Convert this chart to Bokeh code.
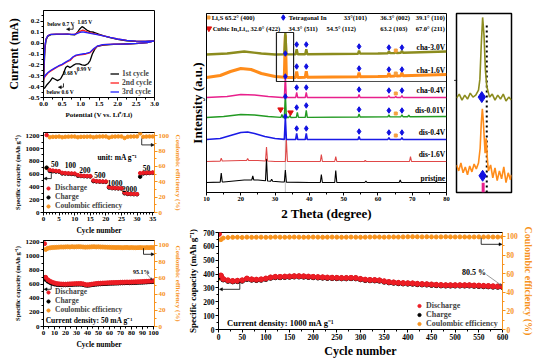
import numpy as np
from bokeh.plotting import figure
from bokeh.models import (Range1d, LinearAxis, Label, Legend, LegendItem, Arrow,
                          NormalHead, FixedTicker, CustomJSTickFormatter)
from bokeh.layouts import row, column
from bokeh.embed import file_html
from bokeh.resources import INLINE

FONT = "Liberation Serif"
RED = "#ED1C24"
ORANGE = "#F7931E"

# ---------------- (a) CV data ----------------
cv1_v = [0.0, 0.02, 0.04, 0.07, 0.12, 0.2, 0.35, 0.5, 0.65, 0.75, 0.84, 0.92, 0.98, 1.04, 1.1, 1.18, 1.26, 1.36,
         1.49, 1.65, 1.8, 2.0, 2.25, 2.5, 2.75, 3.0,
         2.8, 2.5, 2.2, 1.9, 1.62, 1.45, 1.38, 1.32, 1.26, 1.2, 1.12, 1.04, 0.97, 0.88, 0.8, 0.72, 0.65, 0.6,
         0.54, 0.46, 0.38, 0.3, 0.24, 0.18, 0.1, 0.04, 0.0]
cv1_i = [-0.41, -0.2, -0.05, 0.03, 0.065, 0.078, 0.08, 0.08, 0.082, 0.078, 0.075, 0.1, 0.13, 0.152, 0.14, 0.118,
         0.105, 0.1, 0.082, 0.065, 0.05, 0.035, 0.022, 0.016, 0.016, 0.02,
         0.005, -0.004, -0.008, -0.012, -0.018, -0.03, -0.06, -0.1, -0.16, -0.19, -0.205, -0.2, -0.19, -0.19,
         -0.205, -0.225, -0.21, -0.225, -0.28, -0.33, -0.345, -0.33, -0.32, -0.35, -0.38, -0.41, -0.42]
cv2_v = [0.0, 0.02, 0.04, 0.07, 0.12, 0.2, 0.35, 0.5, 0.65, 0.75, 0.84, 0.92, 1.0, 1.06, 1.12, 1.2, 1.3, 1.45,
         1.65, 1.8, 2.0, 2.25, 2.5, 2.75, 3.0,
         2.8, 2.5, 2.2, 1.9, 1.6, 1.45, 1.36, 1.25, 1.15, 1.05, 0.95, 0.88, 0.8, 0.72, 0.62, 0.5, 0.4, 0.3, 0.2,
         0.12, 0.06, 0.02, 0.0]
cv2_i = [-0.33, -0.15, -0.02, 0.04, 0.07, 0.08, 0.082, 0.082, 0.083, 0.08, 0.08, 0.095, 0.11, 0.12, 0.112, 0.1,
         0.092, 0.08, 0.065, 0.052, 0.038, 0.025, 0.018, 0.016, 0.02,
         0.005, -0.003, -0.008, -0.01, -0.015, -0.03, -0.056, -0.09, -0.1, -0.105, -0.11, -0.115, -0.13, -0.16,
         -0.175, -0.2, -0.215, -0.235, -0.255, -0.275, -0.3, -0.32, -0.34]
cv3_v = [0.0, 0.02, 0.04, 0.07, 0.12, 0.2, 0.35, 0.5, 0.65, 0.75, 0.84, 0.92, 1.0, 1.06, 1.12, 1.2, 1.3, 1.45,
         1.65, 1.8, 2.0, 2.25, 2.5, 2.75, 3.0,
         2.8, 2.5, 2.2, 1.9, 1.6, 1.45, 1.36, 1.25, 1.15, 1.05, 0.95, 0.88, 0.8, 0.72, 0.62, 0.5, 0.4, 0.3, 0.2,
         0.12, 0.06, 0.02, 0.0]
cv3_i = [-0.31, -0.14, -0.02, 0.04, 0.07, 0.08, 0.082, 0.082, 0.082, 0.08, 0.08, 0.09, 0.1, 0.104, 0.1, 0.095,
         0.088, 0.078, 0.064, 0.052, 0.038, 0.025, 0.018, 0.016, 0.02,
         0.005, -0.003, -0.008, -0.01, -0.014, -0.028, -0.05, -0.085, -0.095, -0.1, -0.105, -0.11, -0.125, -0.15,
         -0.17, -0.195, -0.21, -0.23, -0.25, -0.27, -0.29, -0.31, -0.33]

# ---------------- (b) XRD data ----------------
xrd_names = ["pristine", "dis-1.6V", "dis-0.4V", "dis-0.01V", "cha-0.4V", "cha-1.6V", "cha-3.0V"]
xrd_offsets = [10, 31, 53, 75, 95, 115, 138]
bg_pristine = [(10, 0), (15, 0.5), (18, 1.5), (21, 2.5), (25, 2.5), (28, 1.5), (32, 0.5), (40, 0), (80, 0)]
bg_dis16 = [(10, 0), (20, 1), (25, 1), (30, 0), (80, 0)]
bg_dis04 = [(10, 0), (14, 1), (17, 4), (20, 7), (22, 7.5), (24, 6), (27, 3), (30, 1), (33, 0), (80, 0)]
bg_dis001 = [(10, 0), (15, 1), (20, 3), (24, 2.5), (28, 1), (32, 0), (80, 1)]
bg_cha04 = [(10, 0), (16, 1), (20, 3), (24, 2.5), (28, 1), (32, 0), (80, 0)]
bg_cha16 = [(10, 0), (14, 2), (17, 6), (20, 9), (23, 8), (26, 4), (30, 1), (34, 0), (60, 1), (80, 3)]
bg_cha30 = [(10, 0), (16, 1), (21, 3), (26, 1), (30, 0), (60, 1), (80, 3)]
pk_pristine = [(14.3, 9), (23.5, 4), (27.5, 22), (29.0, 2), (33.0, 12), (43.5, 8), (47.7, 12), (56.5, 1.5),
               (66.5, 2.5), (77.0, 1)]
pk_dis16 = [(14.3, 3), (22.0, 2), (27.5, 14), (33.3, 22), (43.5, 7), (47.7, 5), (56.3, 1), (69.5, 5)]
pk_dis04 = [(33.0, 22), (36.3, 6), (39.1, 6), (54.5, 3), (63.2, 2), (67.0, 2)]
pk_dis001 = [(32.0, 3), (33.0, 24), (34.3, 2), (36.5, 5), (39.1, 7), (54.5, 3), (63.2, 2), (67.0, 2), (69.0, 1.5)]
pk_cha04 = [(33.0, 22), (36.3, 5), (39.1, 5), (54.5, 3), (63.2, 2), (65.2, 1), (67.0, 2)]
pk_cha16 = [(33.0, 42), (36.3, 6), (39.1, 6), (54.5, 4), (63.2, 3), (65.2, 2), (67.0, 3)]
pk_cha30 = [(33.0, 22), (36.3, 5), (39.1, 5), (54.5, 3), (63.2, 2), (65.2, 1.5), (67.0, 2)]
in_peaks = [36.3, 39.1, 54.5, 63.2, 67.0]
li2s_peak = 65.2
# inset (zoom of the 33 deg peak)
ins_olive_x = [32.0, 32.1, 32.2, 32.3, 32.4, 32.5, 32.6, 32.7, 32.8, 32.85, 32.9, 32.95, 33.0, 33.05, 33.1, 33.2,
               33.3, 33.4, 33.5, 33.6, 33.7, 33.8, 33.9, 34.0]
ins_olive_y = [96, 100, 94, 99, 95, 101, 97, 99, 104, 115, 150, 178, 160, 125, 108, 97, 100, 94, 99, 95, 100, 93,
               97, 94]
ins_orange_x = [32.0, 32.08, 32.16, 32.24, 32.32, 32.4, 32.48, 32.56, 32.64, 32.72, 32.8, 32.86, 32.9, 32.94,
                32.97, 33.0, 33.04, 33.08, 33.12, 33.16, 33.24, 33.32, 33.4, 33.48, 33.56, 33.64, 33.72, 33.8,
                33.88, 33.96, 34.0]
ins_orange_y = [28, 22, 30, 20, 26, 18, 27, 21, 29, 24, 30, 45, 70, 85, 75, 60, 40, 55, 35, 22, 28, 15, 25, 12,
                22, 14, 26, 10, 20, 13, 18]

# ---------------- (c) rate data ----------------
rate_cycle = list(range(1, 36))
rate_dis = [1210, 665, 655, 650, 645, 620, 615, 612, 610, 608, 585, 575, 572, 570, 568, 500, 490, 487, 485, 483,
            400, 385, 383, 380, 378, 310, 295, 292, 290, 288, 615, 620, 622, 623, 625]
rate_chg = [700, 650, 645, 640, 638, 610, 608, 605, 603, 600, 575, 570, 567, 565, 563, 490, 485, 482, 480, 478,
            390, 380, 378, 376, 374, 300, 290, 288, 286, 285, 560, 610, 615, 618, 620]
rate_ce = [58, 98, 98.5, 98.5, 98.8, 98, 98.5, 98.7, 98.8, 98.8, 98, 98.5, 98.6, 98.7, 98.8, 98, 98.6, 98.8, 99,
           99, 97.5, 98.7, 98.8, 99, 99, 97, 98.6, 98.8, 99, 99, 103, 98.5, 98.8, 99, 99]
rate_labels = ["50", "100", "200", "500", "1000", "2000", "50"]

# ---------------- (d) 50 mA/g cycling ----------------
cyc_d = [1, 2, 4, 6, 8, 10, 12, 14, 16, 18, 20, 22, 24, 26, 28, 30, 32, 34, 36, 38, 40, 42, 44, 46, 48, 50, 52,
         54, 56, 58, 60, 62, 64, 66, 68, 70, 72, 74, 76, 78, 80, 82, 84, 86, 88, 90, 92, 94, 96, 98, 100]
dis_d = [1180, 700, 665, 645, 630, 620, 612, 608, 605, 604, 603, 605, 607, 608, 610, 611, 612, 612, 608, 598, 594,
         598, 603, 608, 612, 615, 617, 619, 620, 622, 624, 625, 626, 627, 628, 630, 631, 632, 633, 632, 634, 635,
         636, 638, 639, 640, 642, 644, 646, 648, 650]
chg_d = [695, 672, 645, 628, 615, 606, 600, 597, 595, 594, 594, 596, 598, 599, 601, 602, 603, 603, 599, 590, 586,
         590, 595, 600, 603, 606, 608, 610, 611, 613, 615, 616, 617, 618, 619, 621, 622, 623, 624, 623, 625, 626,
         627, 629, 630, 631, 633, 635, 637, 639, 641]
ce_d = [59, 95, 96.5, 97, 97.3, 97.5, 97.6, 97.8, 98, 97.9, 98.1, 98.2, 98, 98.3, 98.1, 98.2, 98.4, 98.2, 98,
        97.8, 97.9, 98, 98.2, 98.3, 98.1, 98.2, 98, 97.9, 97.8, 97.7, 97.6, 97.5, 97.4, 97.3, 97.4, 97.3, 97.2,
        97.3, 97.4, 97.2, 97.3, 97.2, 97.1, 97.2, 97.3, 97.2, 97.1, 97.3, 97.2, 97.4, 97.3]

# ---------------- (e) 1000 mA/g cycling ----------------
cyc_e = [1, 5, 10, 20, 30, 40, 50, 60, 70, 80, 90, 100, 110, 120, 130, 140, 150, 160, 170, 180, 190, 200, 210,
         220, 230, 240, 250, 260, 270, 280, 290, 300, 310, 320, 330, 340, 350, 360, 370, 380, 390, 400, 410, 420,
         430, 440, 450, 460, 470, 480, 490, 500, 510, 520, 530, 540, 550, 560, 570, 580, 590, 600]
dis_e = [690, 390, 365, 355, 350, 352, 355, 368, 362, 360, 362, 368, 376, 380, 380, 382, 383, 385, 385, 384, 382,
         380, 378, 377, 375, 374, 373, 372, 372, 373, 372, 365, 360, 358, 357, 355, 348, 343, 340, 337, 335, 334,
         333, 330, 328, 327, 325, 323, 321, 320, 320, 320, 320, 320, 320, 318, 317, 315, 314, 312, 311, 310]
chg_e = [380, 385, 361, 351, 347, 349, 352, 364, 359, 357, 359, 365, 373, 377, 377, 379, 380, 382, 382, 381, 379,
         377, 375, 374, 372, 371, 370, 369, 369, 370, 369, 362, 357, 355, 354, 352, 345, 340, 337, 334, 332, 331,
         330, 327, 325, 324, 322, 320, 318, 317, 317, 317, 317, 317, 317, 315, 314, 312, 311, 309, 308, 307]
ce_e = [55, 96.5, 98.2, 98.8, 99, 99.1, 98.9, 99.2, 99, 99.1, 99.2, 99, 99.1, 99.3, 99.2, 99.1, 99.2, 99.3, 99.2,
        99.1, 99.2, 99.3, 99.2, 99.1, 99.2, 99.3, 99.2, 99.1, 99.2, 99.3, 99.2, 99.1, 99.2, 99.3, 99.4, 99.3,
        99.2, 99.3, 99.4, 99.3, 99.5, 99.6, 99.7, 99.6, 99.5, 99.6, 99.5, 99.4, 99.5, 99.6, 99.5, 99.4, 99.5,
        99.4, 99.3, 99.4, 99.5, 99.4, 99.5, 99.4, 99.3, 99.4]


# ---------------- helpers ----------------
def style(p, tick_fs, lab_fs):
    for ax in list(p.left) + list(p.right) + list(p.below):
        ax.major_label_text_font = FONT
        ax.major_label_text_font_style = "bold"
        ax.major_label_text_font_size = tick_fs
        ax.major_label_text_color = "black"
        ax.axis_label_text_font = FONT
        ax.axis_label_text_font_style = "bold"
        ax.axis_label_text_font_size = lab_fs
        ax.axis_label_text_color = "black"
        ax.major_tick_out = 3
        ax.major_tick_in = 0
        ax.minor_tick_out = 2
        ax.minor_tick_in = 0
        ax.axis_label_standoff = 2
        ax.major_label_standoff = 1
        ax.axis_line_color = "black"
        ax.major_tick_line_color = "black"
        ax.minor_tick_line_color = "black"
    p.xgrid.visible = False
    p.ygrid.visible = False
    p.outline_line_color = "black"
    p.outline_line_width = 1
    p.background_fill_color = "white"


def lab(p, x, y, text, fs, align="left", base="middle", color="black", rn=None):
    kw = {}
    if rn:
        kw["y_range_name"] = rn
    p.add_layout(Label(x=x, y=y, text=text, text_font=FONT, text_font_style="bold",
                       text_font_size=fs, text_align=align, text_baseline=base, text_color=color, **kw))


def arrow(p, x0, y0, x1, y1, rn=None, size=4, color="black", lw=0.8):
    kw = {}
    if rn:
        kw["y_range_name"] = rn
    p.add_layout(Arrow(end=NormalHead(size=size, fill_color=color, line_color=color, line_width=0.5),
                       x_start=x0, y_start=y0, x_end=x1, y_end=y1, line_color=color, line_width=lw, **kw))


def right_ce(p, top):
    p.extra_y_ranges = {"ce": Range1d(0, top)}
    ax = LinearAxis(y_range_name="ce", axis_label="Coulombic efficiency (%)",
                    ticker=FixedTicker(ticks=[0, 20, 40, 60, 80, 100], minor_ticks=list(range(0, 101, 10))))
    p.add_layout(ax, "right")
    return ax


def orange_axis(ax):
    ax.axis_line_color = ORANGE
    ax.major_tick_line_color = ORANGE
    ax.minor_tick_line_color = ORANGE
    ax.major_label_text_color = ORANGE
    ax.axis_label_text_color = ORANGE


def legend3(p, rs, loc, fs, h):
    items = [LegendItem(label=l, renderers=[r]) for l, r in zip(["Discharge", "Charge", "Coulombic efficiency"], rs)]
    lg = Legend(items=items, location=loc, label_text_font=FONT, label_text_font_style="bold",
                label_text_font_size=fs, glyph_width=8, glyph_height=h, label_height=h, label_standoff=3,
                spacing=0, padding=0, margin=0, border_line_alpha=0, background_fill_alpha=0)
    p.add_layout(lg)


LW = 185  # left column width

# ================= (a) =================
pa = figure(width=LW, height=121, x_range=(0, 3), y_range=(-0.5, 0.3), output_backend="svg",
            toolbar_location=None, min_border_left=43, min_border_right=27, min_border_top=10,
            min_border_bottom=21, x_axis_label="Potential (V vs. Li\u207a/Li)", y_axis_label="Current (mA)")
pa.xaxis.ticker = FixedTicker(ticks=[0, 0.5, 1, 1.5, 2, 2.5, 3], minor_ticks=[0.25 * i for i in range(13)])
pa.yaxis.ticker = FixedTicker(ticks=[-0.5, -0.4, -0.3, -0.2, -0.1, 0, 0.1, 0.2],
                              minor_ticks=[-0.5 + 0.05 * i for i in range(16)])
pa.xaxis.formatter = CustomJSTickFormatter(code="return tick.toFixed(1);")
pa.yaxis.formatter = CustomJSTickFormatter(code="return tick.toFixed(1);")
r1 = pa.line(cv1_v, cv1_i, color="black", line_width=1.3)
r2 = pa.line(cv2_v, cv2_i, color="#FF2020", line_width=1.3)
r3 = pa.line(cv3_v, cv3_i, color="#2222FF", line_width=1.3)
style(pa, "7px", "7px")
pa.yaxis.axis_label_text_font_size = "12px"
pa.yaxis.axis_label_standoff = 4
lga = Legend(items=[LegendItem(label="1st cycle", renderers=[r1]), LegendItem(label="2nd cycle", renderers=[r2]),
                    LegendItem(label="3rd cycle", renderers=[r3])], location=(67, 1), label_text_font=FONT,
             label_text_font_style="bold", label_text_font_size="7.5px", glyph_width=9, glyph_height=9,
             label_height=9, label_standoff=3, spacing=0, padding=0, margin=0, border_line_alpha=0,
             background_fill_alpha=0)
pa.add_layout(lga)
lab(pa, 0.47, 0.178, "below 0.7 V", "5.5px", align="center")
lab(pa, 1.12, 0.192, "1.05 V", "5.5px", align="center")
pa.line([0.8, 0.8], [0.165, 0.128], color="black", line_width=0.8)
arrow(pa, 0.8, 0.128, 0.62, 0.128, size=3)
lab(pa, 0.73, -0.275, "0.68 V", "5.5px", align="center")
lab(pa, 1.1, -0.238, "0.99 V", "5.5px", align="center")
lab(pa, 0.45, -0.448, "below 0.6 V", "5.5px", align="center")
pa.line([0.54, 0.54], [-0.37, -0.405], color="black", line_width=0.8)
arrow(pa, 0.54, -0.405, 0.4, -0.405, size=3)
lab(pa, -0.52, 0.254, "(a)", "11px", align="center")

# ================= (c) =================
pc = figure(width=LW, height=116, x_range=(0, 35.6), y_range=(0, 1250), output_backend="svg",
            toolbar_location=None, min_border_left=43, min_border_right=27, min_border_top=11,
            min_border_bottom=23, x_axis_label="Cycle number", y_axis_label="Specific capacity (mAh g\u207b\u00b9)")
pc.xaxis.ticker = FixedTicker(ticks=list(range(0, 36, 5)), minor_ticks=list(range(0, 36, 1)))
pc.yaxis.ticker = FixedTicker(ticks=list(range(0, 1201, 200)), minor_ticks=list(range(0, 1201, 100)))
axc = right_ce(pc, 104.17)
rce = pc.scatter(rate_cycle, rate_ce, y_range_name="ce", size=3.5, color=ORANGE, marker="circle")
rch = pc.scatter(rate_cycle, rate_chg, size=3.5, color="black", marker="circle")
rdi = pc.scatter(rate_cycle, rate_dis, size=3.5, color=RED, marker="circle")
style(pc, "7px", "7px")
pc.yaxis[0].axis_label_text_font_size = "6.5px"
pc.xaxis.axis_label_text_font_size = "7.5px"
orange_axis(axc)
legend3(pc, [rdi, rch, rce], (1, 2), "7.5px", 8)
for t, x, y in zip(rate_labels, [3.6, 8.6, 13.3, 18.1, 22.9, 27.6, 33.0], [756, 736, 660, 585, 460, 370, 700]):
    lab(pc, x, y, t, "7.5px", align="center")
lab(pc, 17.3, 862, "unit: mA g\u207b\u00b9", "7.5px")
pc.line([2.5, 2.5], [625, 530], color="black", line_width=0.8)
arrow(pc, 2.5, 530, 0.1, 530, size=3)
pc.line([31.5, 31.5], [96.5, 88], color="black", line_width=0.8, y_range_name="ce")
arrow(pc, 31.5, 88, 35.5, 88, rn="ce", size=3)
lab(pc, -6.3, 1326, "(c)", "11px", align="center")
lab(pc, -6.3, -125, "(d)", "11px", align="center")

# ================= (d) =================
pd_ = figure(width=LW, height=118, x_range=(0, 101), y_range=(0, 1225), output_backend="svg",
             toolbar_location=None, min_border_left=43, min_border_right=27, min_border_top=3,
             min_border_bottom=29, x_axis_label="Cycle number", y_axis_label="Specific capacity (mAh g\u207b\u00b9)")
pd_.xaxis.ticker = FixedTicker(ticks=list(range(0, 101, 10)), minor_ticks=list(range(0, 101, 5)))
pd_.yaxis.ticker = FixedTicker(ticks=list(range(0, 1201, 200)), minor_ticks=list(range(0, 1201, 100)))
axd = right_ce(pd_, 106)
dce = pd_.scatter(cyc_d, ce_d, y_range_name="ce", size=4, color=ORANGE, marker="circle")
dch = pd_.scatter(cyc_d, chg_d, size=4, color="black", marker="circle")
ddi = pd_.scatter(cyc_d, dis_d, size=4, color=RED, marker="circle")
style(pd_, "7px", "7px")
pd_.yaxis[0].axis_label_text_font_size = "6.5px"
pd_.xaxis.axis_label_text_font_size = "7.5px"
orange_axis(axd)
legend3(pd_, [ddi, dch, dce], (1, 12), "7.5px", 8)
lab(pd_, 2, 90, "Current density: 50 mA g\u207b\u00b9", "7.5px")
lab(pd_, 89, 775, "95.1%", "6px", align="center")
arrow(pd_, 94, 748, 99, 662, size=2, color="#333333", lw=0.6)
pd_.line([7, 7], [600, 530], color="black", line_width=0.8)
arrow(pd_, 7, 530, 0.5, 530, size=3)
pd_.line([91, 91], [96.5, 89], color="black", line_width=0.8, y_range_name="ce")
arrow(pd_, 91, 89, 100.8, 89, rn="ce", size=3)

# ================= (b) =================
pb = figure(width=265, height=224, x_range=(10, 80), y_range=(0, 179), output_backend="svg",
            toolbar_location=None, min_border_left=21, min_border_right=4, min_border_top=13,
            min_border_bottom=32, x_axis_label="2 Theta (degree)", y_axis_label="Intensity (a.u.)")
pb.xaxis.ticker = FixedTicker(ticks=list(range(10, 81, 10)), minor_ticks=list(range(10, 81, 5)))
pb.yaxis.ticker = FixedTicker(ticks=[])
style(pb, "6.5px", "13px")
pb.yaxis.major_label_text_font_size = "0px"

xrd_colors = ["black", "#E04848", "#1A1AE6", "#229A22", "#E8208C", "#FF8C1A", "#8C8C1E"]
xrd_bgs = [bg_pristine, bg_dis16, bg_dis04, bg_dis001, bg_cha04, bg_cha16, bg_cha30]
xrd_pks = [pk_pristine, pk_dis16, pk_dis04, pk_dis001, pk_cha04, pk_cha16, pk_cha30]
xrd_widths = [1.1, 1.1, 1.6, 1.4, 1.4, 3.0, 2.4]


def xrd_curve(bg, peaks, off, hw=0.3):
    bx = [q[0] for q in bg]
    by = [q[1] for q in bg]
    xs, ys = [], []
    for x, y in bg:
        if all(abs(x - pp) > hw for pp, _ in peaks):
            xs.append(x)
            ys.append(y)
    for pos, h in peaks:
        for dx, dh in ((-hw, 0), (0, h), (hw, 0)):
            xs.append(pos + dx)
            ys.append(float(np.interp(pos + dx, bx, by)) + dh)
    order = np.argsort(xs, kind="stable")
    return [xs[i] for i in order], [ys[i] + off for i in order]


pb.line([33.0, 33.0], [0, 57], color="#888888", line_width=1, line_dash="1 1")
for name, off, col, bg, pk, lw in zip(xrd_names, xrd_offsets, xrd_colors, xrd_bgs, xrd_pks, xrd_widths):
    xs, ys = xrd_curve(bg, pk, off)
    pb.line(xs, ys, color=col, line_width=lw)
    lab(pb, 79.6, off + 7 if name != "pristine" else off + 4, name, "7.5px", align="right")

bx_, by_, ox_, oy_ = [], [], [], []
for off, pk in zip(xrd_offsets[2:], xrd_pks[2:]):
    hmap = dict(pk)
    for pos in in_peaks:
        bx_.append(pos)
        by_.append(off + hmap.get(pos, hmap.get(36.5, 2) if pos == 36.3 else 2) + 5)
    ox_.append(li2s_peak)
    oy_.append(off + 4)
for off in xrd_offsets[3:]:
    bx_.append(33.0)
    by_.append(off + 1)
pb.scatter(bx_, by_, marker="diamond", size=5.5, color="#1010E0")
pb.scatter(ox_, oy_, marker="square", size=3, color="#F5A040")
pb.scatter([31.6, 34.5], [xrd_offsets[3] + 8, xrd_offsets[3] + 5], marker="inverted_triangle", size=5.5,
           color="#E01010")
pb.scatter([10.6], [175], marker="square", size=3, color="#F5A040")
pb.scatter([32.4], [175], marker="diamond", size=5.5, color="#1010E0")
pb.scatter([10.7], [164], marker="inverted_triangle", size=5.5, color="#E01010")
for x, t in [(11.5, "Li\u2082S  65.2\u00b0 (400)"), (34.0, "Tetragonal In"), (50.0, "33\u00b0(101)"),
             (60.7, "36.3\u00b0 (002)"), (71.0, "39.1\u00b0 (110)")]:
    lab(pb, x, 175, t, "6.5px")
for x, t in [(11.8, "Cubic In\u2083Li\u2081\u2083"), (22.8, "32.0\u00b0 (422)"), (33.9, "34.3\u00b0 (511)"),
             (45.0, "54.5\u00b0 (112)"), (60.7, "63.2 (103)"), (71.0, "67.0\u00b0 (211)")]:
    lab(pb, x, 164, t, "6.5px")
pb.quad(left=[30.4], right=[35.4], bottom=[111], top=[160], fill_alpha=0, line_color="#222222", line_width=1.2)
pb.line([35.4, 80], [111, 111], color="#222222", line_width=0.8)
lab(pb, 7.9, 174, "(b)", "10px", align="center")
lab(pb, 7.9, -25, "(e)", "10px", align="center")

# ================= inset =================
pin = figure(width=103, height=224, x_range=(32.0, 34.0), y_range=(0, 182), output_backend="svg",
             toolbar_location=None, min_border_left=6, min_border_right=42, min_border_top=13,
             min_border_bottom=29)
pin.xaxis.visible = False
pin.yaxis.visible = False
pin.xgrid.visible = False
pin.ygrid.visible = False
pin.outline_line_color = "black"
pin.outline_line_width = 1.5
pin.line([33.1, 33.1], [0, 170], color="black", line_width=2, line_dash="2 3")
pin.line(ins_olive_x, ins_olive_y, color="#8C8C1E", line_width=1.6)
pin.line(ins_orange_x, ins_orange_y, color="#FF8C1A", line_width=1.6)
pin.line([32.97, 32.97], [0, 10], color="#E8208C", line_width=3)
pin.scatter([32.92, 32.95], [97, 17], marker="diamond", size=11, color="#1010E0")
arrow(pin, 31.85, 114, 32.02, 114, size=3)

# ================= (e) =================
pe = figure(width=367, height=136, x_range=(0, 600), y_range=(0, 700), output_backend="svg",
            toolbar_location=None, min_border_left=31, min_border_right=50, min_border_top=8,
            min_border_bottom=28, x_axis_label="Cycle number", y_axis_label="Specific capacity (mAh g\u207b\u00b9)")
pe.xaxis.ticker = FixedTicker(ticks=list(range(0, 601, 50)), minor_ticks=list(range(0, 601, 25)))
pe.yaxis.ticker = FixedTicker(ticks=list(range(0, 701, 100)), minor_ticks=list(range(0, 701, 50)))
axe = right_ce(pe, 104.2)
ece = pe.scatter(cyc_e, ce_e, y_range_name="ce", size=4, color=ORANGE, marker="circle")
ech = pe.scatter(cyc_e, chg_e, size=5, color="black", marker="circle")
edi = pe.scatter(cyc_e, dis_e, size=5, color=RED, marker="circle")
style(pe, "7.5px", "9px")
pe.xaxis.axis_label_text_font_size = "12px"
pe.xaxis.axis_label_standoff = 1
orange_axis(axe)
axe.axis_label_text_font_size = "10px"
legend3(pe, [edi, ech, ece], (197, 1), "8px", 9)
lab(pe, 18, 50, "Current density: 1000 mA g\u207b\u00b9", "8.5px")
lab(pe, 540, 410, "80.5 %", "8px", align="center")
arrow(pe, 566, 396, 598, 318, size=2, color="#555555", lw=0.6)
pe.line([45, 45], [345, 290], color="black", line_width=0.8)
arrow(pe, 45, 290, 2, 290, size=3)
pe.line([555, 555], [98.5, 91.5], color="black", line_width=0.8, y_range_name="ce")
arrow(pe, 555, 91.5, 599, 91.5, rn="ce", size=3)

layout = row(column(pa, pc, pd_, spacing=0), column(row(pb, pin, spacing=0), pe, spacing=0), spacing=0)
open("out.html", "w").write(file_html(layout, INLINE))
